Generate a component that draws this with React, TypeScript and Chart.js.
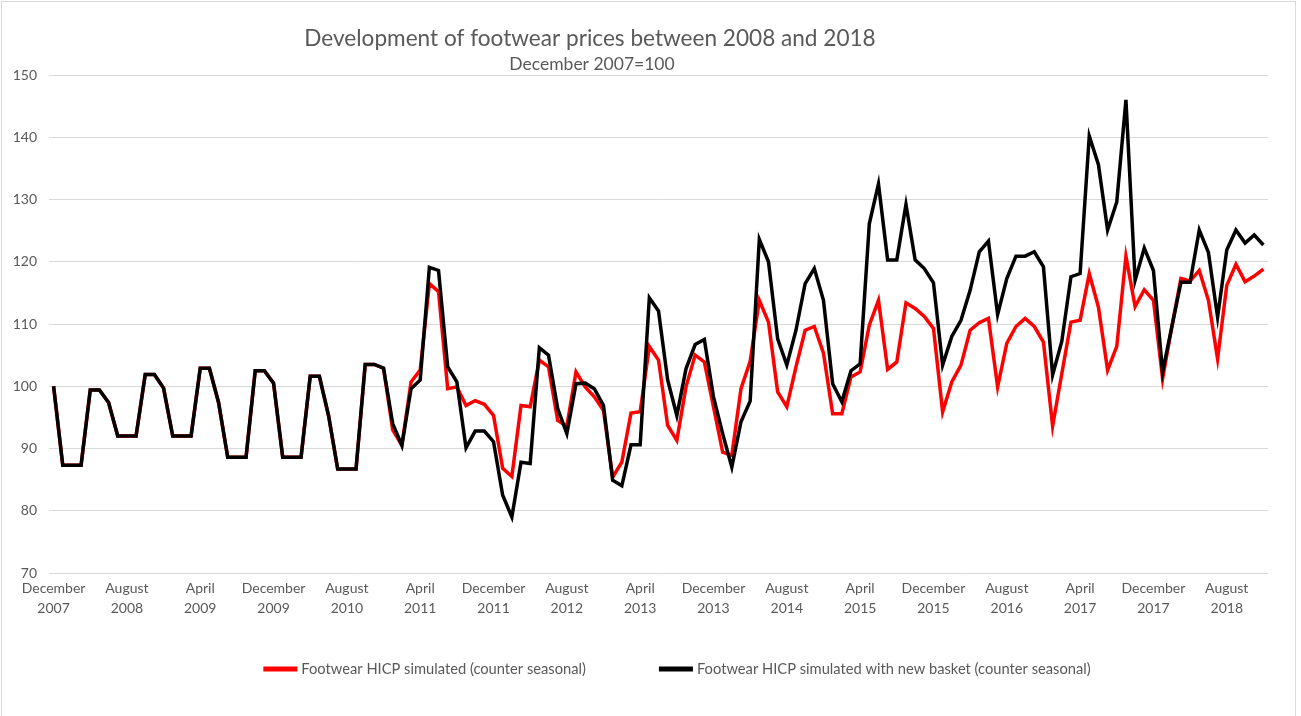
import React, { useEffect, useRef } from "react";
import { Chart, registerables } from "chart.js";

Chart.register(...registerables);

// ---------- data ----------
const monthNames = [
  "January", "February", "March", "April", "May", "June",
  "July", "August", "September", "October", "November", "December",
];
const firstYear = 2007;
const firstMonthIndex = 11; // December 2007
const monthCount = 133; // December 2007 .. December 2018
const labelEvery = 8;

const categories: string[] = [];
for (let k = 0; k < monthCount; k++) {
  const m = (firstMonthIndex + k) % 12;
  const y = firstYear + Math.floor((firstMonthIndex + k) / 12);
  categories.push(monthNames[m] + " " + y);
}

const titleText = "Development of footwear prices between 2008 and 2018";
const subtitleText = "December 2007=100";

const seriesNames = [
  "Footwear HICP simulated (counter seasonal)",
  "Footwear HICP simulated with new basket (counter seasonal)",
];
const seriesColors = ["#ff0000", "#000000"];

const yMin = 70;
const yMax = 150;
const yStep = 10;

const hicpSimulated = [
  100, 87.3, 87.3, 87.3, 99.4, 99.4, 97.4, 92.0, 92.0, 92.0,
  101.9, 101.9, 99.7, 92.0, 92.0, 92.0, 102.9, 102.9, 97.4, 88.6,
  88.6, 88.6, 102.5, 102.5, 100.5, 88.6, 88.6, 88.6, 101.6, 101.6,
  95.3, 86.7, 86.7, 86.7, 103.5, 103.5, 102.9, 93.0, 90.5, 100.7,
  102.6, 116.5, 115.2, 99.6, 99.9, 96.9, 97.7, 97.1, 95.3, 86.8,
  85.5, 96.9, 96.7, 104.2, 103.1, 94.5, 93.6, 102.3, 99.9, 98.3,
  96.1, 85.4, 87.8, 95.7, 95.9, 106.4, 104.2, 93.7, 91.3, 99.9,
  105.0, 103.9, 96.7, 89.4, 88.9, 99.6, 104.0, 113.8, 110.3, 99.1,
  96.7, 103.1, 109.0, 109.6, 105.3, 95.6, 95.6, 101.5, 102.3, 109.8,
  113.8, 102.7, 103.9, 113.4, 112.5, 111.2, 109.3, 95.9, 100.7, 103.4,
  109.0, 110.2, 110.9, 99.9, 106.9, 109.6, 110.9, 109.6, 107.1, 93.6,
  102.0, 110.3, 110.6, 118.1, 112.7, 102.6, 106.4, 120.9, 112.8, 115.5,
  113.8, 101.2, 109.5, 117.3, 116.9, 118.6, 113.8, 104.4, 116.2, 119.6,
  116.8, 117.7, 118.8,
];

const hicpNewBasket = [
  100, 87.3, 87.3, 87.3, 99.4, 99.4, 97.4, 92.0, 92.0, 92.0,
  101.9, 101.9, 99.7, 92.0, 92.0, 92.0, 102.9, 102.9, 97.4, 88.6,
  88.6, 88.6, 102.5, 102.5, 100.5, 88.6, 88.6, 88.6, 101.6, 101.6,
  95.3, 86.7, 86.7, 86.7, 103.5, 103.5, 102.9, 94.0, 90.5, 99.6,
  101.0, 119.1, 118.6, 103.1, 100.7, 90.1, 92.8, 92.8, 91.1, 82.5,
  79.0, 87.8, 87.6, 106.2, 105.0, 96.4, 92.4, 100.4, 100.5, 99.6,
  96.9, 84.9, 84.0, 90.6, 90.6, 114.2, 112.1, 101.0, 95.3, 102.8,
  106.7, 107.5, 98.3, 92.4, 87.0, 94.3, 97.6, 123.6, 120.0, 107.6,
  103.4, 109.0, 116.5, 118.9, 113.8, 100.4, 97.5, 102.5, 103.6, 126.1,
  132.5, 120.3, 120.3, 129.2, 120.3, 118.9, 116.6, 103.4, 108.0, 110.6,
  115.4, 121.6, 123.3, 111.5, 117.3, 120.9, 120.9, 121.6, 119.2, 101.8,
  107.2, 117.6, 118.1, 140.2, 135.6, 125.1, 129.6, 146.0, 117.0, 122.2,
  118.6, 102.3, 109.5, 116.7, 116.7, 125.1, 121.5, 111.1, 121.9, 125.1,
  123.0, 124.3, 122.7,
];

// ---------- styling ----------
const FONT = "Lato, 'Open Sans', 'DejaVu Sans', sans-serif";
const TEXT_COLOR = "#595959";
const GRID_COLOR = "#d9d9d9";

const titlePlugin = {
  id: "excelTitles",
  afterDraw(chart: any) {
    const ctx = chart.ctx;
    ctx.save();
    ctx.fillStyle = TEXT_COLOR;
    ctx.textAlign = "center";
    ctx.textBaseline = "middle";
    ctx.font = "22.6px " + FONT;
    ctx.fillText(titleText, 590, 39);
    ctx.font = "17.5px " + FONT;
    ctx.fillText(subtitleText, 592, 64);
    ctx.restore();
  },
};

// legend drawn below the axis, Excel style (short thick line + label)
const legendPlugin = {
  id: "excelLegend",
  afterDraw(chart: any) {
    const ctx = chart.ctx;
    const sample = 34;
    const textGap = 4;
    const itemGap = 73;
    const centerX = 677;
    const y = 669;
    ctx.save();
    ctx.font = "14.7px " + FONT;
    ctx.textBaseline = "middle";
    ctx.textAlign = "left";
    const ds = chart.data.datasets;
    const widths = ds.map((d: any) => sample + textGap + ctx.measureText(d.label).width);
    const total = widths.reduce((a: number, b: number) => a + b, 0) + itemGap * (ds.length - 1);
    let x = centerX - total / 2;
    ds.forEach((d: any, i: number) => {
      ctx.strokeStyle = d.borderColor;
      ctx.lineWidth = 5;
      ctx.lineCap = "butt";
      ctx.beginPath();
      ctx.moveTo(x, y);
      ctx.lineTo(x + sample, y);
      ctx.stroke();
      ctx.fillStyle = TEXT_COLOR;
      ctx.fillText(d.label, x + sample + textGap, y);
      x += widths[i] + itemGap;
    });
    ctx.restore();
  },
};

export default function App() {
  const canvasRef = useRef<HTMLCanvasElement | null>(null);

  useEffect(() => {
    document.body.style.margin = "0";
    const canvas = canvasRef.current;
    if (!canvas) return;
    const chart = new Chart(canvas, {
      type: "line",
      data: {
        labels: categories,
        datasets: [
          {
            label: seriesNames[0],
            data: hicpSimulated,
            borderColor: seriesColors[0],
            backgroundColor: seriesColors[0],
            borderWidth: 3.5,
            pointRadius: 0,
            tension: 0,
            order: 1,
          },
          {
            label: seriesNames[1],
            data: hicpNewBasket,
            borderColor: seriesColors[1],
            backgroundColor: seriesColors[1],
            borderWidth: 3.5,
            pointRadius: 0,
            tension: 0,
            order: 0,
          },
        ],
      },
      options: {
        animation: false,
        responsive: true,
        maintainAspectRatio: false,
        layout: { padding: { left: 0, right: 33, top: 75, bottom: 95 } },
        plugins: {
          title: { display: false },
          tooltip: { enabled: false },
          legend: { display: false },
        },
        scales: {
          x: {
            type: "category",
            offset: true,
            grid: { display: false, drawTicks: false },
            border: { display: false },
            afterFit(scale: any) {
              scale.height = 48;
            },
            ticks: {
              autoSkip: false,
              maxRotation: 0,
              minRotation: 0,
              padding: 5,
              color: TEXT_COLOR,
              font: { family: FONT, size: 14, lineHeight: 1.45 },
              callback: function (this: any, _v: any, index: number) {
                if (index % labelEvery !== 0) return null;
                const parts = categories[index].split(" ");
                return [parts[0], parts[1]];
              },
            },
          },
          y: {
            min: yMin,
            max: yMax,
            grid: { color: GRID_COLOR, lineWidth: 1, drawTicks: false },
            border: { display: false },
            afterFit(scale: any) {
              scale.width = 49;
            },
            ticks: {
              stepSize: yStep,
              padding: 12,
              color: TEXT_COLOR,
              font: { family: FONT, size: 14 },
            },
          },
        },
      },
      plugins: [titlePlugin, legendPlugin],
    });
    return () => chart.destroy();
  }, []);

  return (
    <div style={{ position: "relative", width: "1301px", height: "716px", overflow: "hidden" }}>
      <canvas ref={canvasRef} style={{ display: "block" }} />
      <div
        style={{
          position: "absolute",
          left: "1px",
          top: "1px",
          width: "1295px",
          height: "730px",
          boxSizing: "border-box",
          border: "1px solid #d9d9d9",
          pointerEvents: "none",
        }}
      />
    </div>
  );
}
